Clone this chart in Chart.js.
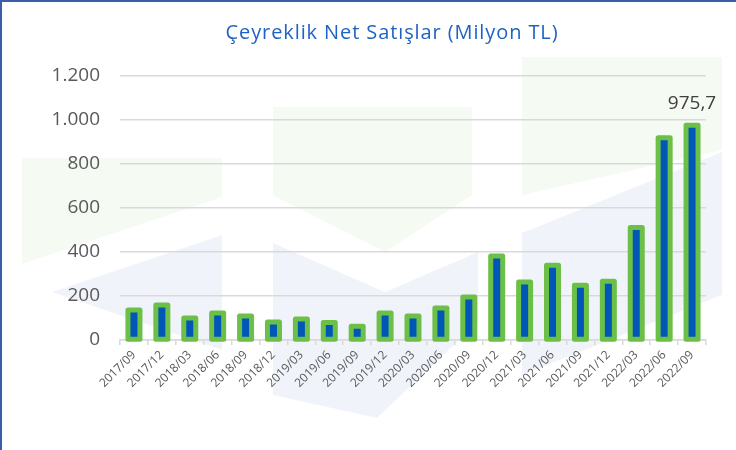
<!DOCTYPE html>
<html>
<head>
<meta charset="utf-8">
<script src="https://cdn.jsdelivr.net/npm/chart.js@4"></script>
<style>
  body { margin: 0; background: #fff; }
  #wrap { position: relative; width: 736px; height: 450px; }
  #frame { position: absolute; left: 0; top: 0; width: 736px; height: 450px; box-sizing: border-box;
           border-left: 2px solid #3A5FA8; border-top: 2px solid #3A5FA8; pointer-events: none; }
</style>
</head>
<body>
<div id="wrap">
  <canvas id="chart" width="736" height="450"></canvas>
  <div id="frame"></div>
</div>
<script>
const quarters = ['2017/09', '2017/12', '2018/03', '2018/06', '2018/09', '2018/12', '2019/03',
    '2019/06', '2019/09', '2019/12', '2020/03', '2020/06', '2020/09', '2020/12', '2021/03',
    '2021/06', '2021/09', '2021/12', '2022/03', '2022/06', '2022/09'];
const netSales = [136, 159, 100, 123, 109, 82, 95, 80, 63, 123, 109, 145, 195, 382, 264,
    340, 249, 267, 511, 919, 975.7];
const yTickValues = [0, 200, 400, 600, 800, 1000, 1200];
const labelledIndex = netSales.length - 1;
const chartTitle = 'Çeyreklik Net Satışlar (Milyon TL)';

const GREEN = '#6CBF47';
const BLUE = '#0057B8';
const FONT = '"Open Sans", sans-serif';

// turkish style numbers: 1.200 and 975,7
function formatTr(v, decimals) {
    const parts = v.toFixed(decimals).split('.');
    parts[0] = parts[0].replace(/\B(?=(\d{3})+(?!\d))/g, '.');
    return parts.join(',');
}

// faint logo shapes in the background
const watermark = {
    id: 'watermark',
    beforeDraw(chart) {
        const ctx = chart.ctx;
        const shapes = [
            ['#F5FAF2', [[22, 158], [222, 158], [222, 197], [22, 264]]],
            ['#F0F4FA', [[52, 292], [222, 235], [222, 350]]],
            ['#F5FAF2', [[273, 107], [472, 107], [472, 195], [385, 252], [273, 195]]],
            ['#F0F4FA', [[273, 243], [385, 292], [478, 252], [478, 322], [377, 418], [273, 395]]],
            ['#F5FAF2', [[522, 57], [722, 57], [722, 150], [522, 195]]],
            ['#F0F4FA', [[522, 233], [722, 152], [722, 295], [522, 375]]]
        ];
        ctx.save();
        shapes.forEach(([color, pts]) => {
            ctx.beginPath();
            pts.forEach(([x, y], i) => i ? ctx.lineTo(x, y) : ctx.moveTo(x, y));
            ctx.closePath();
            ctx.fillStyle = color;
            ctx.fill();
        });
        ctx.restore();
    }
};

// green outline centred on the bar edge, plus the title and the value label
const decorations = {
    id: 'decorations',
    afterDatasetsDraw(chart) {
        const ctx = chart.ctx;
        const meta = chart.getDatasetMeta(0);
        ctx.save();
        ctx.strokeStyle = GREEN;
        ctx.lineWidth = 5;
        ctx.lineJoin = 'round';
        meta.data.forEach(bar => {
            const { x, y, base, width } = bar.getProps(['x', 'y', 'base', 'width'], true);
            ctx.strokeRect(x - width / 2, y, width, base - y);
        });

        const last = meta.data[labelledIndex];
        ctx.fillStyle = '#404040';
        ctx.font = '19px ' + FONT;
        ctx.textAlign = 'center';
        ctx.textBaseline = 'middle';
        ctx.fillText(formatTr(netSales[labelledIndex], 1), last.x, last.y - 22);

        ctx.fillStyle = '#1E63C3';
        ctx.font = '20px ' + FONT;
        ctx.letterSpacing = '0.9px';
        ctx.fillText(chartTitle, 392, 33);
        ctx.restore();
    }
};

new Chart(document.getElementById('chart').getContext('2d'), {
    type: 'bar',
    data: {
        labels: quarters,
        datasets: [{
            label: chartTitle,
            data: netSales,
            backgroundColor: BLUE,
            borderWidth: 0,
            barThickness: 12
        }]
    },
    options: {
        responsive: false,
        devicePixelRatio: 1,
        animation: false,
        layout: { padding: { top: 76, right: 30, left: 0, bottom: 0 } },
        plugins: {
            legend: { display: false },
            tooltip: { enabled: false }
        },
        scales: {
            x: {
                afterFit: s => { s.height = 110; },
                grid: { drawOnChartArea: false, offset: true, tickLength: 5, color: '#D9D9D9', lineWidth: 1.5 },
                border: { color: '#D9D9D9', width: 1.5 },
                ticks: {
                    autoSkip: false, minRotation: 45, maxRotation: 45, padding: 3,
                    color: '#595959', font: { family: FONT, size: 12 }
                }
            },
            y: {
                min: 0,
                max: 1200,
                afterFit: s => { s.width = 120; },
                afterBuildTicks: s => { s.ticks = yTickValues.map(v => ({ value: v })); },
                grid: { drawTicks: false, color: '#D9D9D9', lineWidth: 1.5 },
                border: { display: false },
                ticks: {
                    padding: 20, color: '#595959', font: { family: FONT, size: 19 },
                    callback: v => formatTr(v, 0)
                }
            }
        }
    },
    plugins: [watermark, decorations]
});
</script>
</body>
</html>
